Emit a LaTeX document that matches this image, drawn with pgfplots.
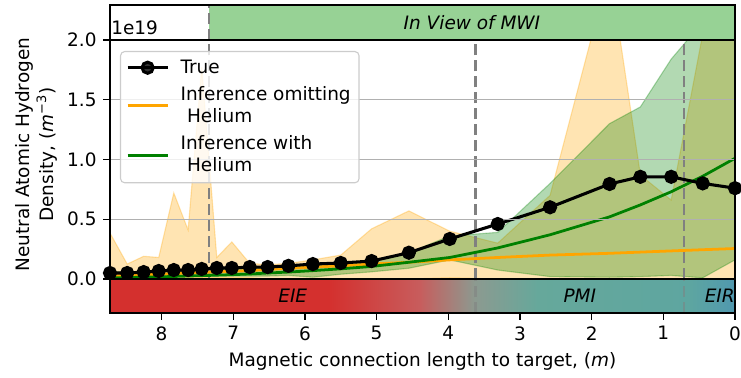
\documentclass[border=0pt]{standalone}
\usepackage{fontspec}
\setmainfont{DejaVu Sans}
\usepackage{pgfplots}
\pgfplotsset{compat=1.18}
\usepackage{pgfplotstable}

% density profiles along the field line, in units of 1e19 m^-3
\pgfplotstableread{
x     true   omit   with
8.72  0.050  0.025  0.010
8.48  0.050  0.030  0.012
8.25  0.058  0.035  0.015
8.04  0.067  0.040  0.018
7.83  0.075  0.045  0.021
7.63  0.075  0.050  0.025
7.44  0.084  0.055  0.028
7.23  0.092  0.060  0.032
7.02  0.092  0.065  0.036
6.77  0.100  0.070  0.042
6.52  0.100  0.080  0.050
6.23  0.110  0.090  0.058
5.89  0.125  0.100  0.070
5.50  0.134  0.110  0.085
5.07  0.150  0.125  0.105
4.55  0.220  0.140  0.140
3.98  0.335  0.160  0.180
3.31  0.460  0.180  0.260
2.58  0.600  0.200  0.370
1.75  0.795  0.215  0.520
1.32  0.855  0.225  0.620
0.89  0.855  0.235  0.730
0.45  0.800  0.245  0.860
0.00  0.760  0.255  1.010
}\density

\definecolor{mplorange}{RGB}{255,165,0}
\definecolor{mplgreen}{RGB}{0,128,0}
\definecolor{gridgray}{RGB}{176,176,176}
\definecolor{dashgray}{RGB}{128,128,128}
\definecolor{legendgray}{RGB}{204,204,204}
\definecolor{viewgreen}{RGB}{151,210,149}
\definecolor{regred}{RGB}{212,48,46}
\definecolor{regpink}{RGB}{200,92,92}
\definecolor{reggray}{RGB}{140,154,144}
\definecolor{regteal}{RGB}{102,168,155}
\definecolor{regtealb}{RGB}{94,166,160}
\definecolor{regblue}{RGB}{80,152,175}

\pgfdeclarehorizontalshading{regionshade}{100bp}{%
  color(0bp)=(regred); color(42.5bp)=(regred); color(49.7bp)=(regpink);
  color(54.2bp)=(reggray); color(59.2bp)=(regteal); color(71.2bp)=(regtealb);
  color(75bp)=(regblue); color(100bp)=(regblue)}

\pgfplotsset{
  stripaxis/.style={
    anchor=south west, scale only axis, width=450pt,
    xmin=0, xmax=8.72, x dir=reverse, ymin=0, ymax=1,
    ytick=\empty, axis line style={line width=1.0pt}, axis on top,
  },
  regionline/.style={dashgray, line width=1.8pt, dash pattern=on 8pt off 3.5pt, forget plot},
  band/.style={fill=#1, fill opacity=0.3, draw=#1, draw opacity=0.3, line width=0.8pt, forget plot},
}

\begin{document}
\fontsize{13.3}{16}\selectfont
\begin{tikzpicture}
\useasboundingbox (0,0) rectangle (533.52pt,272.16pt);

% main panel
\begin{axis}[
  at={(79.2pt,71.28pt)}, anchor=south west,
  width=450pt, height=172.08pt, scale only axis,
  xmin=0, xmax=8.72, x dir=reverse,
  ymin=0, ymax=2,
  xtick=\empty,
  ytick={0,0.5,1,1.5,2}, ytick pos=left,
  yticklabel style={/pgf/number format/.cd, fixed, fixed zerofill, precision=1, assume math mode=true},
  ymajorgrids, grid style={gridgray, line width=1.0pt},
  tick align=outside, major tick length=5pt,
  tick style={black, line width=0.9pt},
  axis line style={line width=1.0pt},
  axis on top,
  ylabel={Neutral Atomic Hydrogen\\Density, (\textit{m}\textsuperscript{−3})},
  ylabel style={align=center, font=\fontsize{13.3}{17.3}\selectfont,
    at={(axis description cs:-0.118,0.52)}, anchor=center},
  legend image code/.code={\draw[mark repeat=2,mark phase=2,#1]
    plot coordinates {(0pt,0pt) (14.4pt,0pt) (28.8pt,0pt)};
    \path (35pt,0pt);},
  legend style={at={(axis description cs:0.016,0.954)}, anchor=north west,
    draw=legendgray, line width=0.8pt, rounded corners=3pt,
    fill=white, fill opacity=0.8, text opacity=1,
    inner xsep=4pt, inner ysep=3.8pt,
    cells={anchor=west, align=left, font=\fontsize{13.3}{16}\selectfont},
    row sep=3.5pt},
  legend cell align=left,
]
\addlegendimage{black, line width=2.2pt, mark=*, mark size=4pt}
\addlegendentry{True}
\addlegendimage{mplorange, line width=2pt}
\addlegendentry{Inference omitting\\\hspace{0.35em}Helium}
\addlegendimage{mplgreen, line width=2pt}
\addlegendentry{Inference with\\\hspace{0.35em}Helium}

% uncertainty band, inference omitting helium: upper edge then lower edge
\addplot[band=mplorange] coordinates {
  (8.72,0.385) (8.48,0.125) (8.25,0.19) (8.04,0.18) (7.83,0.72) (7.63,0.41)
  (7.44,1.77) (7.23,0.18) (7.02,0.31) (6.77,0.13) (6.52,0.12) (6.23,0.13)
  (5.89,0.16) (5.50,0.20) (5.07,0.42) (4.55,0.57) (3.98,0.40) (3.31,0.30)
  (2.58,0.70) (1.75,2.6) (1.32,0.87) (0.89,0.66) (0.45,2.05) (0,3.0)
  (0,0) (0.45,0) (0.89,0) (1.32,0) (1.75,0) (2.58,0) (3.31,0) (3.98,0.01)
  (4.55,0) (5.07,0) (5.50,0) (5.89,0) (6.23,0) (6.52,0) (6.77,0.01) (7.02,0.01)
  (7.23,0.01) (7.44,0.01) (7.63,0.01) (7.83,0.01) (8.04,0.01) (8.25,0.01)
  (8.48,0.01) (8.72,0.01)} -- cycle;

% uncertainty band, inference with helium: upper edge then lower edge
\addplot[band=mplgreen] coordinates {
  (8.72,0.06) (8.48,0.06) (8.25,0.065) (8.04,0.07) (7.83,0.075) (7.63,0.075)
  (7.44,0.08) (7.23,0.085) (7.02,0.085) (6.77,0.09) (6.52,0.09) (6.23,0.10)
  (5.89,0.11) (5.50,0.12) (5.07,0.14) (4.55,0.22) (3.98,0.36) (3.31,0.39)
  (2.58,0.80) (1.75,1.30) (1.32,1.44) (0.89,1.84) (0.45,2.15) (0,2.5)
  (0,0.16) (0.45,0.01) (0.89,0.03) (1.32,0.02) (1.75,0.015) (2.58,0.02)
  (3.31,0.075) (3.98,0.16) (4.55,0.09) (5.07,0.06) (5.50,0.04) (5.89,0.015)
  (6.23,0.03) (6.52,0.025) (6.77,0.025) (7.02,0.025) (7.23,0.025) (7.44,0.025)
  (7.63,0.025) (7.83,0.025) (8.04,0.025) (8.25,0.025) (8.48,0.025) (8.72,0.025)} -- cycle;

% region boundaries
\addplot[regionline] coordinates {(7.34,0) (7.34,2)};
\addplot[regionline] coordinates {(3.62,0) (3.62,2)};
\addplot[regionline] coordinates {(0.71,0) (0.71,2)};

% inferred and true profiles
\addplot[mplorange, line width=2pt, forget plot] table[x=x, y=omit]{\density};
\addplot[mplgreen, line width=2pt, forget plot] table[x=x, y=with]{\density};
\addplot[black, line width=2.2pt, mark=*, mark size=4pt, forget plot] table[x=x, y=true]{\density};
\end{axis}

% diagnostic coverage strip
\begin{axis}[stripaxis, at={(79.2pt,243.36pt)}, height=25.2pt, xtick=\empty]
\addplot[fill=viewgreen, draw=none] coordinates {(7.34,0) (7.34,1) (0,1) (0,0)} -- cycle;
\addplot[regionline] coordinates {(7.34,0) (7.34,1)};
\node at (axis cs:3.67,0.5) {\textit{In View of MWI}};
\end{axis}

% regime strip
\begin{axis}[stripaxis, at={(79.2pt,46.8pt)}, height=24.48pt,
  xtick={0,1,...,8}, xtick pos=bottom, tick align=outside, major tick length=5pt,
  tick style={black, line width=0.9pt},
  xticklabel style={/pgf/number format/assume math mode=true},
  xlabel={Magnetic connection length to target, (\textit{m})},
]
\fill[shading=regionshade] (axis cs:8.72,0) rectangle (axis cs:0,1);
\addplot[regionline, draw opacity=0.5] coordinates {(3.62,0) (3.62,1)};
\addplot[regionline, draw opacity=0.5] coordinates {(0.71,0) (0.71,1)};
\node at (axis cs:6.17,0.5) {\textit{EIE}};
\node at (axis cs:2.165,0.5) {\textit{PMI}};
\node[anchor=east, inner sep=0pt] at (axis cs:0,0.5) {\textit{EIR}};
\end{axis}

\node[anchor=base west, inner sep=0pt] at (80pt,247pt) {1e19};
\end{tikzpicture}
\end{document}
